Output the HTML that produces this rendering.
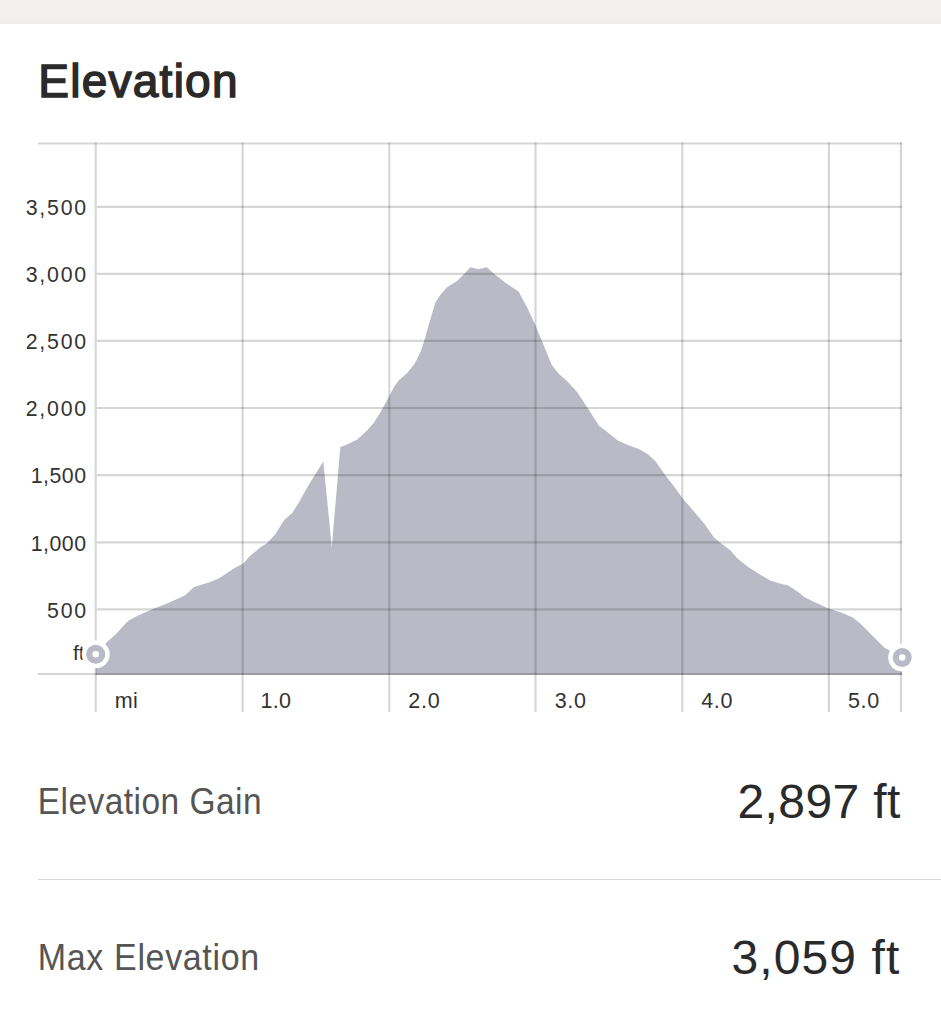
<!DOCTYPE html>
<html><head><meta charset="utf-8">
<style>
html,body{margin:0;padding:0;background:#fff;}
body{width:941px;height:1023px;position:relative;overflow:hidden;font-family:"Liberation Sans",sans-serif;}
.topbar{position:absolute;left:0;top:0;width:941px;height:24px;background:linear-gradient(#f1f0ee 0,#f1f0ee 75%,#eeedea 100%);}
.title{position:absolute;left:38.3px;top:54px;font-size:46px;font-weight:normal;-webkit-text-stroke:1.5px #2a2a2a;color:#2a2a2a;letter-spacing:1.25px;line-height:54px;white-space:nowrap;}
svg{position:absolute;left:0;top:0;}
.yl{position:absolute;right:853px;font-size:21.3px;color:#333;line-height:24px;letter-spacing:1.8px;white-space:nowrap;}
.xl{position:absolute;top:688.5px;font-size:21.5px;color:#333;line-height:24px;white-space:nowrap;letter-spacing:0.7px;}
.ft{position:absolute;left:73px;top:641px;font-size:21px;color:#333;line-height:24px;}
.lab{position:absolute;left:39px;font-size:33.5px;color:#555;line-height:40px;white-space:nowrap;letter-spacing:0.3px;transform:scaleY(1.1);transform-origin:0 31px;}
.val{position:absolute;font-size:48px;color:#2a2a2a;line-height:54px;white-space:nowrap;letter-spacing:0.4px;}
.sep{position:absolute;left:37.7px;top:878.7px;width:904px;height:1.4px;background:#d9d9d9;}
</style></head><body>
<div class="topbar"></div>
<div class="title">Elevation</div>
<svg width="941" height="1023" viewBox="0 0 941 1023">
<path d="M95.7,675 L96,654 L107,642 L115.5,634.4 L128.3,620.8 L137.6,615.7 L152.9,608.9 L168.2,602.9 L185.2,595.3 L193.7,587.3 L200.5,585 L209,582.5 L219.2,578.3 L234.5,568 L243,563.8 L250.2,555.8 L260.4,547.3 L267.2,543.1 L275.7,533.7 L284.2,520.1 L292.7,512.5 L299.5,501.4 L308,486.1 L314.8,475.1 L323.3,461.5 L331.8,547.3 L340.3,447 L345.4,445.3 L357.3,439.4 L367.5,430 L373.7,423.1 L381.5,410.4 L395.2,385 L399.1,380.1 L406.9,373.2 L414.8,363.4 L420.6,351.7 L424.5,340 L429.4,322.4 L435.3,302.8 L440.2,295 L447,287.2 L456.8,281.3 L463.7,274.5 L470.5,267.2 L478.3,269.2 L486.7,267.2 L495,274.5 L504.7,282.3 L518.6,291.5 L527.4,308.1 L535.2,324.8 L542.1,341.4 L551.8,364.9 L558.7,373.7 L567.5,381.5 L577.3,392.2 L587,406.9 L598.8,425.5 L607.6,432.3 L617.4,440.2 L627.1,444.7 L638.9,449 L648.7,454.8 L655.6,461.5 L665.4,475.2 L675.2,487.9 L683,498.7 L694.8,512.4 L704.5,524.1 L714.3,537.8 L719.7,542.3 L730.8,550.8 L737.2,558.3 L747.8,566.8 L759.5,574.2 L770.1,580.6 L780.8,583.8 L788.2,585.4 L800,593.3 L803.8,596.8 L814.2,602 L829.1,608.7 L842.5,613.1 L852.9,617.6 L861.8,625 L872.2,635.5 L884.2,647.4 L902,657.5 L902,675 Z" fill="#babac6"/>
<g stroke="rgba(0,0,0,0.16)" stroke-width="2.2">
<line x1="38" y1="143.5" x2="902" y2="143.5"/><line x1="38" y1="674.0" x2="902" y2="674.0"/><line x1="96.8" y1="206.9" x2="902" y2="206.9"/><line x1="96.8" y1="273.9" x2="902" y2="273.9"/><line x1="96.8" y1="340.9" x2="902" y2="340.9"/><line x1="96.8" y1="408" x2="902" y2="408"/><line x1="96.8" y1="475.1" x2="902" y2="475.1"/><line x1="96.8" y1="542.3" x2="902" y2="542.3"/><line x1="96.8" y1="609.4" x2="902" y2="609.4"/><line x1="95.7" y1="142.5" x2="95.7" y2="712"/><line x1="242.6" y1="142.5" x2="242.6" y2="712"/><line x1="389.3" y1="142.5" x2="389.3" y2="712"/><line x1="535.5" y1="142.5" x2="535.5" y2="712"/><line x1="682.3" y1="142.5" x2="682.3" y2="712"/><line x1="828.9" y1="142.5" x2="828.9" y2="712"/><line x1="901" y1="142.5" x2="901" y2="712"/>
</g>
</svg>
<div class="yl" style="top:196.0px">3,500</div><div class="yl" style="top:263.2px">3,000</div><div class="yl" style="top:330.2px">2,500</div><div class="yl" style="top:397.3px">2,000</div><div class="yl" style="top:464.3px;letter-spacing:0.5px;right:854.5px">1,500</div><div class="yl" style="top:531.5px;letter-spacing:0.5px;right:854.5px">1,000</div><div class="yl" style="top:598.7px">500</div>
<div class="ft">ft</div>
<div class="xl" style="left:114.8px;letter-spacing:0.4px">mi</div><div class="xl" style="left:261.6px;letter-spacing:0.2px;margin-left:-1px">1.0</div><div class="xl" style="left:408.3px">2.0</div><div class="xl" style="left:554.7px">3.0</div><div class="xl" style="left:701.2px">4.0</div><div class="xl" style="left:847.9px">5.0</div>
<svg width="941" height="1023" viewBox="0 0 941 1023">
<circle cx="95.7" cy="654.3" r="14" fill="#fff"/>
<circle cx="95.7" cy="654.3" r="9.5" fill="#babac6"/>
<circle cx="95.7" cy="654.3" r="3.3" fill="#fff"/>
<circle cx="902.2" cy="657.5" r="14" fill="#fff"/>
<circle cx="902.2" cy="657.5" r="9.5" fill="#babac6"/>
<circle cx="902.2" cy="657.5" r="3.3" fill="#fff"/>
</svg>
<div class="lab" style="top:783px;left:37.8px;letter-spacing:0.45px">Elevation Gain</div>
<div class="val" style="left:737.5px;top:774.5px">2,897 ft</div>
<div class="sep"></div>
<div class="lab" style="top:938px;left:37.8px;letter-spacing:0.65px;font-size:34px">Max Elevation</div>
<div class="val" style="left:731.5px;top:930.5px;letter-spacing:1.1px">3,059 ft</div>
</body></html>
